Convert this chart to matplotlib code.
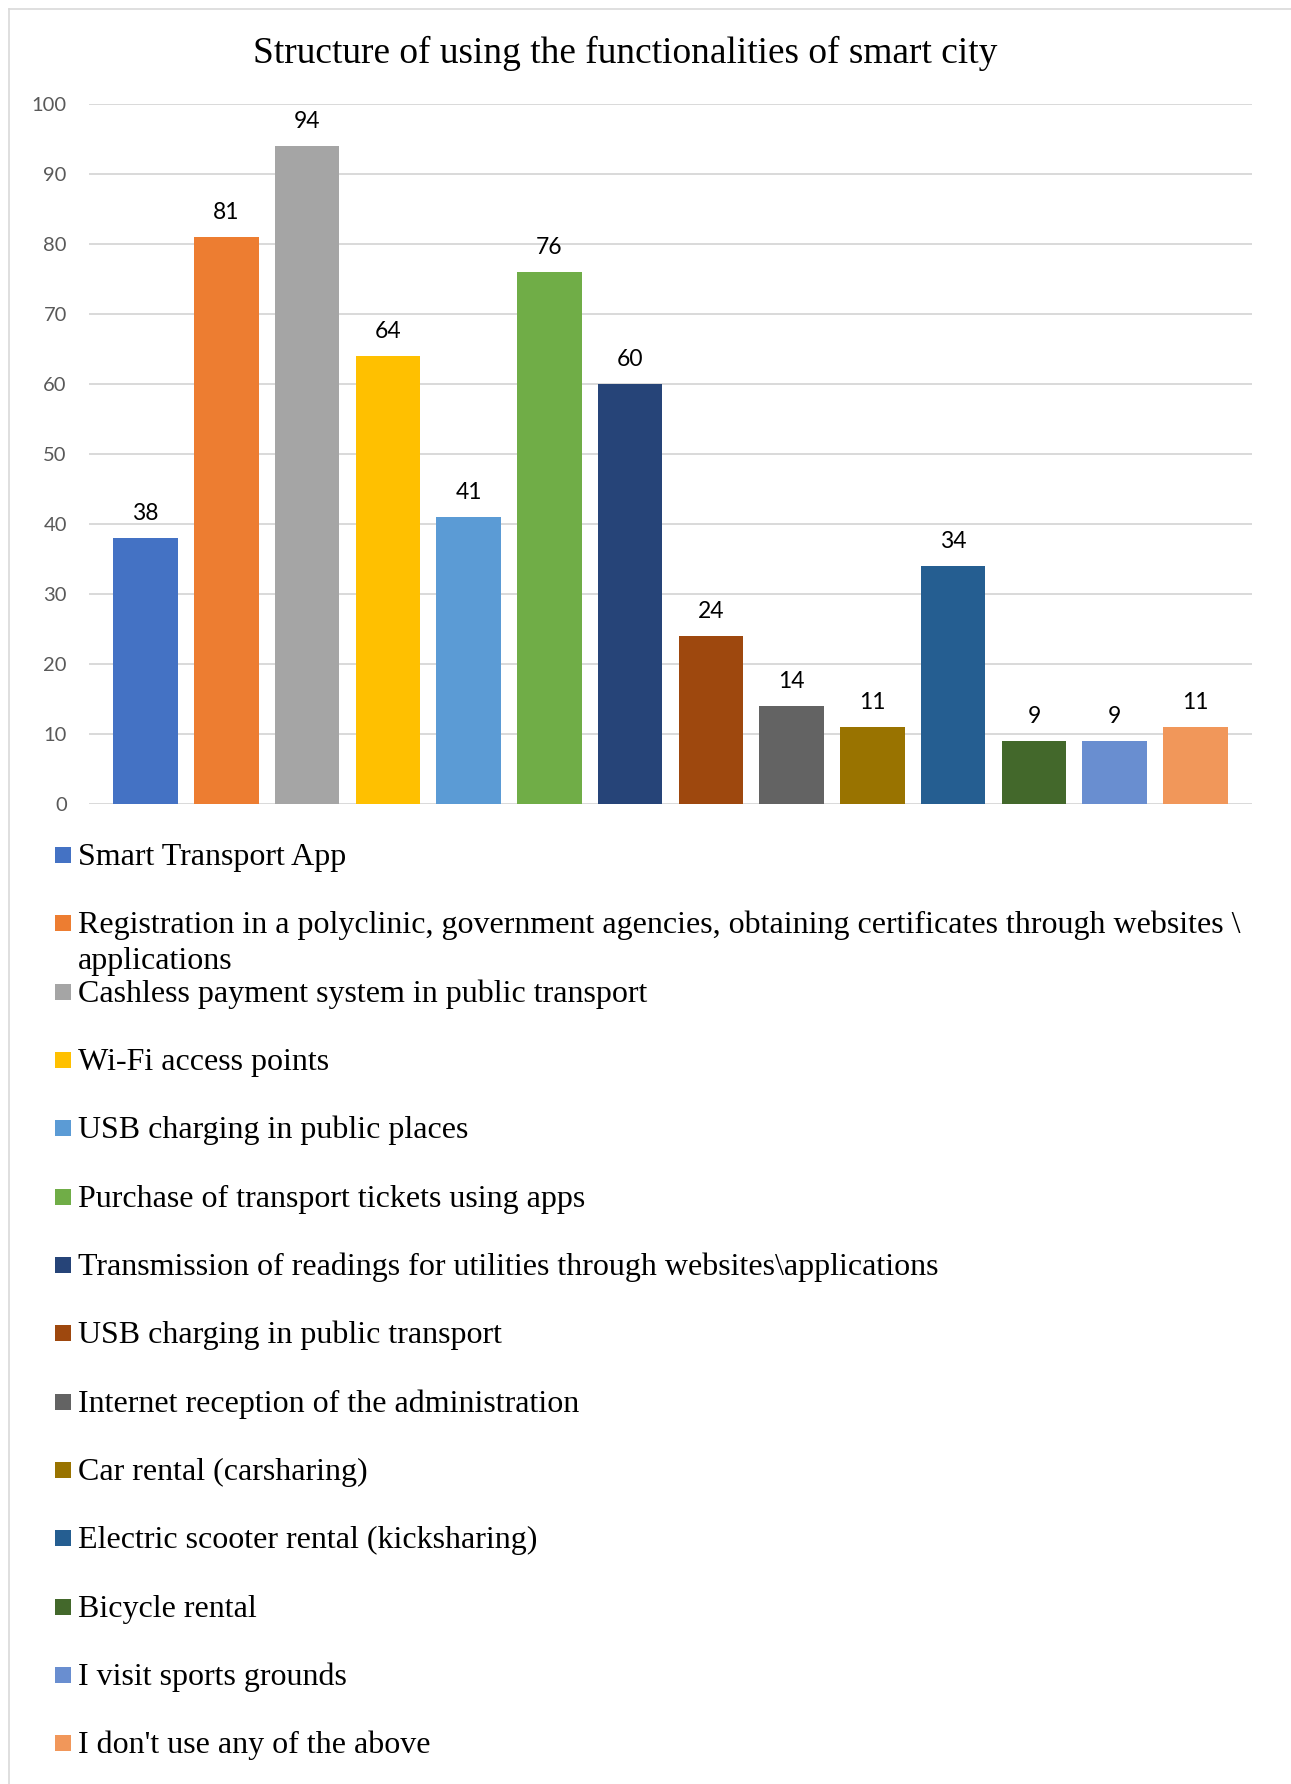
import matplotlib
matplotlib.use("Agg")
import matplotlib.pyplot as plt
from matplotlib.patches import Rectangle
from matplotlib.lines import Line2D

title = "Structure of using the functionalities of smart city"
categories = [
    "Smart Transport App",
    "Registration in a polyclinic, government agencies, obtaining certificates through websites \\\napplications",
    "Cashless payment system in public transport",
    "Wi-Fi access points",
    "USB charging in public places",
    "Purchase of transport tickets using apps",
    "Transmission of readings for utilities through websites\\applications",
    "USB charging in public transport",
    "Internet reception of the administration",
    "Car rental (carsharing)",
    "Electric scooter rental (kicksharing)",
    "Bicycle rental",
    "I visit sports grounds",
    "I don't use any of the above",
]
values = [38, 81, 94, 64, 41, 76, 60, 24, 14, 11, 34, 9, 9, 11]
colors = ["#4472C4", "#ED7D31", "#A5A5A5", "#FFC000", "#5B9BD5", "#70AD47",
          "#264478", "#9E480E", "#636363", "#997300", "#255E91", "#43682B",
          "#698ED0", "#F1975A"]
yticks = [0, 10, 20, 30, 40, 50, 60, 70, 80, 90, 100]

W, H = 1291, 1784
def fx(px):
    return px / W
def fy(py):
    return 1 - py / H

fig = plt.figure(figsize=(W / 100, H / 100), dpi=100)
ax = fig.add_axes([fx(89), fy(804), fx(1252) - fx(89), fy(104) - fy(804)])

xs = list(range(len(values)))
ax.bar(xs, values, width=0.80, color=colors, zorder=3)
ax.set_xlim(-0.70, 13.70)
ax.set_ylim(0, 100)
ax.set_yticks(yticks)
ax.set_yticklabels([str(t) for t in yticks], family="Lato", fontsize=14.5, color="#595959")
ax.set_xticks([])
ax.tick_params(axis="y", length=0, pad=16)
for s in ax.spines.values():
    s.set_visible(False)
ax.grid(axis="y", color="#D9D9D9", linewidth=1.4, zorder=0)
ax.set_axisbelow(True)

for x, v in zip(xs, values):
    ax.annotate(str(v), (x, v), xytext=(0, 13.2), textcoords="offset points",
                ha="center", va="baseline", fontsize=16.5, family="Lato", color="#000000")

fig.text(fx(625.5), fy(63), title, ha="center", va="baseline", fontsize=26.9,
         family="Liberation Serif", color="#000000")

# legend
for i, (lab, c) in enumerate(zip(categories, colors)):
    yc = 855 + i * 68.33
    fig.add_artist(Rectangle((fx(55), fy(yc + 8)), fx(71) - fx(55), fy(yc - 8) - fy(yc + 8),
                             transform=fig.transFigure, facecolor=c, edgecolor="none"))
    for k, line in enumerate(lab.split("\n")):
        fig.text(fx(78), fy(yc + 10 + k * 36), line, ha="left", va="baseline",
                 fontsize=23, family="Liberation Serif", color="#000000")

# chart border
fig.add_artist(Line2D([fx(9), fx(9)], [0, fy(8.5)], transform=fig.transFigure,
                      color="#D9D9D9", linewidth=1.2))
fig.add_artist(Line2D([fx(9), 1], [fy(8.5), fy(8.5)], transform=fig.transFigure,
                      color="#D9D9D9", linewidth=1.2))

fig.savefig("out.png", dpi=100, facecolor="white")
